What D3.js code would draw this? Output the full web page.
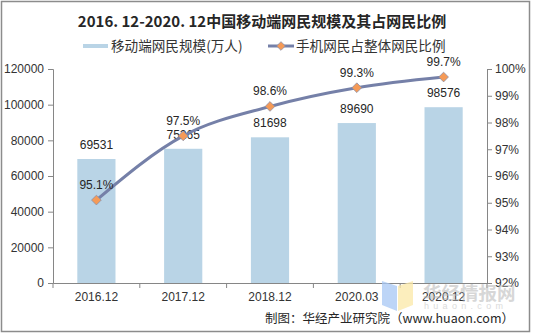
<!DOCTYPE html>
<html>
<head>
<meta charset="utf-8">
<script src="https://cdn.jsdelivr.net/npm/d3@7"></script>
<style>
  body { margin: 0; background: #fff; }
  text { font-family: "Liberation Sans", Arial, sans-serif; }
  .cjk { font-family: "Noto Sans CJK SC", sans-serif; }
</style>
</head>
<body>
<div id="chart"></div>
<script>
// data
var categories = ["2016.12", "2017.12", "2018.12", "2020.03", "2020.12"];
var users = [69531, 75265, 81698, 89690, 98576];
var share = [95.1, 97.5, 98.6, 99.3, 99.7];
var leftTicks = [0, 20000, 40000, 60000, 80000, 100000, 120000];
var rightTicks = [92, 93, 94, 95, 96, 97, 98, 99, 100];

var svgWidth = 536, svgHeight = 336;
var margin = { top: 69, right: 49, bottom: 53, left: 53 };
var width = svgWidth - margin.left - margin.right;
var height = svgHeight - margin.top - margin.bottom;

var svg = d3.select("#chart").append("svg")
    .attr("width", svgWidth)
    .attr("height", svgHeight);

// outer frame
svg.append("rect")
    .attr("x", 1.5).attr("y", 1.5)
    .attr("width", 528).attr("height", 330)
    .attr("fill", "none").attr("stroke", "#8c8c8c").attr("stroke-width", 1.5);

// title
svg.append("text")
    .attr("class", "cjk")
    .attr("x", 262).attr("y", 27)
    .attr("text-anchor", "middle")
    .attr("font-size", "15px").attr("font-weight", "bold")
    .attr("fill", "#262626")
    .text("2016. 12-2020. 12中国移动端网民规模及其占网民比例");

// legend
var legend = svg.append("g");
legend.append("rect").attr("x", 83).attr("y", 44).attr("width", 25).attr("height", 4).attr("fill", "#b9d4e6");
legend.append("text").attr("class", "cjk").attr("x", 111).attr("y", 51)
    .attr("font-size", "13.6px").attr("fill", "#333").text("移动端网民规模(万人)");
legend.append("line").attr("x1", 268).attr("x2", 294).attr("y1", 46).attr("y2", 46)
    .attr("stroke", "#7580a8").attr("stroke-width", 3);
legend.append("path").attr("d", d3.symbol(d3.symbolDiamond2, 48)())
    .attr("transform", "translate(281,46)")
    .attr("fill", "#f59a57").attr("stroke", "#8a8fa8").attr("stroke-width", 0.8);
legend.append("text").attr("class", "cjk").attr("x", 296).attr("y", 51)
    .attr("font-size", "13.6px").attr("fill", "#333").text("手机网民占整体网民比例");

var g = svg.append("g").attr("transform", `translate(${margin.left}, ${margin.top})`);

var x = d3.scaleBand().domain(categories).range([0, width]).paddingInner(0.56).paddingOuter(0.28);
var yLeft = d3.scaleLinear().domain([0, 120000]).range([height, 0]);
var yRight = d3.scaleLinear().domain([92, 100]).range([height, 0]);

// bars
g.selectAll(".bar").data(users).enter().append("rect")
    .attr("class", "bar")
    .attr("x", (d, i) => x(categories[i]))
    .attr("y", d => yLeft(d))
    .attr("width", x.bandwidth())
    .attr("height", d => height - yLeft(d))
    .attr("fill", "#b9d4e6");

// axes
var xAxis = g.append("g").attr("transform", `translate(0, ${height})`)
    .call(d3.axisBottom(x).tickSize(0).tickPadding(9));
var step = width / categories.length;
d3.range(categories.length + 1).forEach(function(i) {
    xAxis.append("line").attr("x1", i * step).attr("x2", i * step)
        .attr("y1", 0).attr("y2", 5).attr("stroke", "#868686");
});

var leftAxis = g.append("g").call(d3.axisLeft(yLeft).tickValues(leftTicks).tickSize(5).tickPadding(4).tickFormat(d3.format("d")));
var rightAxis = g.append("g").attr("transform", `translate(${width}, 0)`)
    .call(d3.axisRight(yRight).tickValues(rightTicks).tickSize(5).tickPadding(3).tickFormat(d => d + "%"));

[xAxis, leftAxis, rightAxis].forEach(function(a) {
    a.selectAll("path,line").attr("stroke", "#868686");
    a.selectAll("text").attr("font-size", "12px").attr("fill", "#333")
        .attr("font-family", "Liberation Sans, Arial, sans-serif");
});

// bar labels
g.selectAll(".blabel").data(users).enter().append("text")
    .attr("x", (d, i) => x(categories[i]) + x.bandwidth() / 2)
    .attr("y", d => yLeft(d) - 10)
    .attr("text-anchor", "middle")
    .attr("font-size", "12px").attr("fill", "#262626")
    .text(d => d);

// line
var cx = (d, i) => x(categories[i]) + x.bandwidth() / 2;
var line = d3.line().x(cx).y(d => yRight(d)).curve(d3.curveMonotoneX);
g.append("path").datum(share)
    .attr("d", line)
    .attr("fill", "none").attr("stroke", "#7580a8").attr("stroke-width", 3);

g.selectAll(".pt").data(share).enter().append("path")
    .attr("d", d3.symbol(d3.symbolDiamond2, 60)())
    .attr("transform", (d, i) => `translate(${cx(d, i)}, ${yRight(d)})`)
    .attr("fill", "#f59a57").attr("stroke", "#8a8fa8").attr("stroke-width", 0.8);

g.selectAll(".plabel").data(share).enter().append("text")
    .attr("x", cx)
    .attr("y", d => yRight(d) - 11)
    .attr("text-anchor", "middle")
    .attr("font-size", "12px").attr("fill", "#262626")
    .text(d => d.toFixed(1) + "%");

// source
svg.append("text").attr("class", "cjk")
    .attr("x", 514).attr("y", 323).attr("text-anchor", "end")
    .attr("font-size", "12.5px").attr("fill", "#262626")
    .text("制图：华经产业研究院（www.huaon.com）");

// watermark logo + text
var wm = svg.append("g").attr("opacity", 0.75);
wm.append("path").attr("d", "M382,281 L397,286 L397,311 L382,305 Z").attr("fill", "#a8c8f5");
wm.append("path").attr("d", "M398,286 L413,281 L413,305 L398,311 Z").attr("fill", "#fbe9a8");
wm.append("text").attr("class", "cjk")
    .attr("x", 423).attr("y", 300)
    .attr("font-size", "18.5px").attr("font-weight", "bold").attr("fill", "#b4b4b4").attr("opacity", 0.7)
    .text("华经情报网");
wm.append("text")
    .attr("x", 424).attr("y", 309)
    .attr("font-size", "9px").attr("fill", "#cfcfcf").attr("letter-spacing", "4.3px")
    .text("huaon.com");
</script>
</body>
</html>
